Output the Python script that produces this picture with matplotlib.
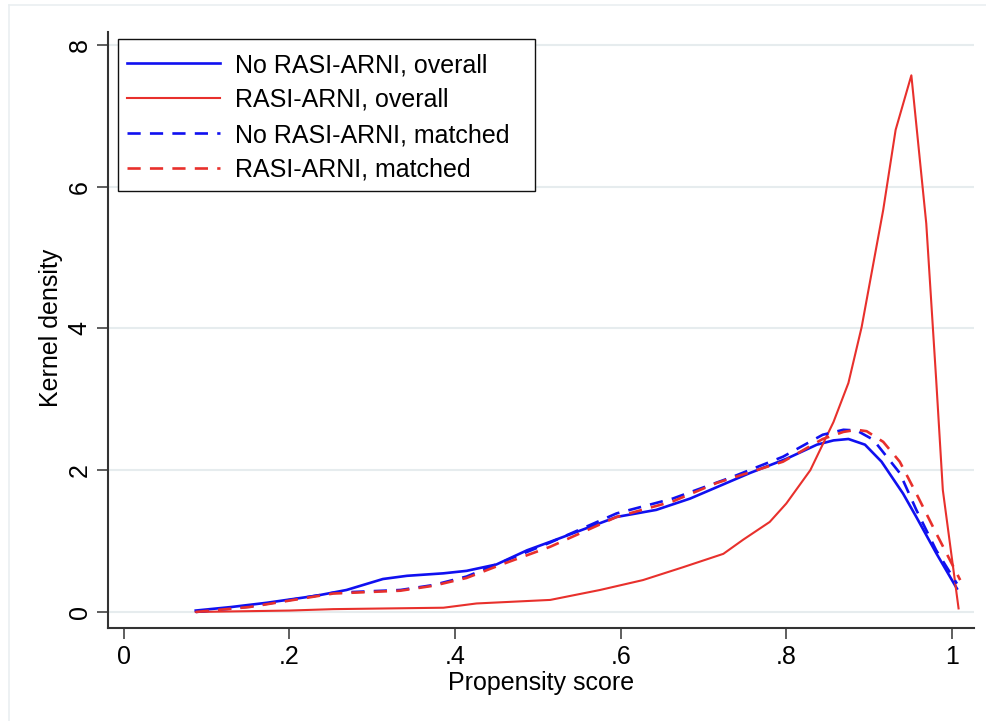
import matplotlib
matplotlib.use('Agg')
import matplotlib.pyplot as plt
from matplotlib.lines import Line2D
from matplotlib.patches import Rectangle

plt.rcParams['font.family'] = ['Liberation Sans', 'DejaVu Sans']

# propensity score grid and kernel density values
x_no_all = [0.087, 0.13, 0.173, 0.233, 0.269, 0.313, 0.342, 0.386, 0.414, 0.45, 0.487, 0.515,
            0.595, 0.643, 0.684, 0.756, 0.80, 0.837, 0.857, 0.875, 0.895, 0.915, 0.941, 0.957,
            0.981, 1.006]
y_no_all = [0.02, 0.07, 0.13, 0.23, 0.31, 0.465, 0.51, 0.545, 0.58, 0.67, 0.87, 0.99,
            1.34, 1.44, 1.60, 1.96, 2.16, 2.36, 2.42, 2.44, 2.36, 2.12, 1.67, 1.34,
            0.83, 0.33]

x_yes_all = [0.087, 0.2, 0.253, 0.386, 0.426, 0.515, 0.575, 0.627, 0.675, 0.724, 0.748, 0.780,
             0.800, 0.829, 0.857, 0.875, 0.891, 0.917, 0.932, 0.951, 0.969, 0.981, 0.989, 1.008]
y_yes_all = [0.0, 0.02, 0.04, 0.06, 0.12, 0.17, 0.31, 0.45, 0.63, 0.82, 1.02, 1.27,
             1.53, 2.0, 2.68, 3.23, 4.02, 5.67, 6.80, 7.57, 5.48, 3.27, 1.72, 0.05]

x_no_m = [0.087, 0.152, 0.253, 0.334, 0.374, 0.414, 0.454, 0.515, 0.595, 0.663, 0.736, 0.796,
          0.844, 0.869, 0.885, 0.905, 0.937, 0.957, 0.981, 1.006]
y_no_m = [0.0, 0.075, 0.27, 0.31, 0.38, 0.5, 0.69, 0.98, 1.39, 1.60, 1.91, 2.19,
          2.50, 2.57, 2.56, 2.43, 1.96, 1.44, 0.87, 0.40]

x_yes_m = [0.087, 0.152, 0.253, 0.334, 0.374, 0.414, 0.454, 0.515, 0.595, 0.663, 0.716, 0.796,
           0.844, 0.869, 0.885, 0.897, 0.917, 0.937, 0.957, 0.981, 1.01]
y_yes_m = [0.0, 0.07, 0.26, 0.30, 0.37, 0.48, 0.66, 0.92, 1.34, 1.56, 1.82, 2.12,
           2.44, 2.54, 2.57, 2.55, 2.40, 2.12, 1.67, 1.11, 0.45]

labels = ['No RASI-ARNI, overall', 'RASI-ARNI, overall',
          'No RASI-ARNI, matched', 'RASI-ARNI, matched']
xticks = [0, 0.2, 0.4, 0.6, 0.8, 1]
xtick_labels = ['0', '.2', '.4', '.6', '.8', '1']
yticks = [0, 2, 4, 6, 8]

blue = '#1010f0'
red = '#e8302c'
fs = 18
W, H = 986, 721

fig = plt.figure(figsize=(9.86, 7.21), dpi=100)
ax = fig.add_axes([0.110, 0.129, 0.8778, 0.827])

ax.plot(x_no_all, y_no_all, color=blue, lw=1.9, label=labels[0], zorder=3)
ax.plot(x_yes_all, y_yes_all, color=red, lw=1.5, label=labels[1], zorder=3)
ax.plot(x_no_m, y_no_m, color=blue, lw=1.9, ls=(0, (5, 3.5)), label=labels[2], zorder=3)
ax.plot(x_yes_m, y_yes_m, color=red, lw=1.9, ls=(0, (5, 3.5)), label=labels[3], zorder=3)

ax.set_xlim(-0.0184, 1.0266)
ax.set_ylim(-0.226, 8.185)
ax.set_xticks(xticks)
ax.set_xticklabels(xtick_labels)
ax.set_yticks(yticks)
ax.set_yticklabels([str(v) for v in yticks], rotation=90, va='center')
ax.tick_params(axis='both', length=8, width=1.1, color='#333333', labelsize=fs, pad=4)

ax.grid(True, axis='y', color='#e6ecee', lw=1.5)
ax.set_axisbelow(True)
for side in ['top', 'right']:
    ax.spines[side].set_visible(False)
for side in ['left', 'bottom']:
    ax.spines[side].set_color('#333333')
    ax.spines[side].set_linewidth(1.5)

ax.set_xlabel('Propensity score', fontsize=fs, va='center')
ax.xaxis.set_label_coords(0.5, -0.092)
ax.set_ylabel('Kernel density', fontsize=fs, va='center')
ax.yaxis.set_label_coords(-0.066, 0.504)

# legend box drawn separately (Stata pads it unevenly)
box = Rectangle((117.8 / W, 1 - 190.7 / H), (534.7 - 117.8) / W, (190.7 - 39.3) / H,
                transform=fig.transFigure, facecolor='white', edgecolor='#111111',
                lw=1.0, zorder=4.5, clip_on=False)
ax.add_patch(box)
leg = ax.legend(loc='upper left', bbox_to_anchor=(127.4 / W, 1 - 53 / H),
                bbox_transform=fig.transFigure, borderaxespad=0, borderpad=0,
                fontsize=fs, handlelength=3.7, handletextpad=0.62, labelspacing=0.44,
                frameon=False)

# faint outer frame of the graph region
fig.add_artist(Line2D([9 / W, 9 / W], [0, 1 - 5 / H], transform=fig.transFigure,
                      color='#eaeff1', lw=1.2))
fig.add_artist(Line2D([9 / W, 1], [1 - 5 / H, 1 - 5 / H], transform=fig.transFigure,
                      color='#eaeff1', lw=1.2))

fig.savefig('out.png', dpi=100)
